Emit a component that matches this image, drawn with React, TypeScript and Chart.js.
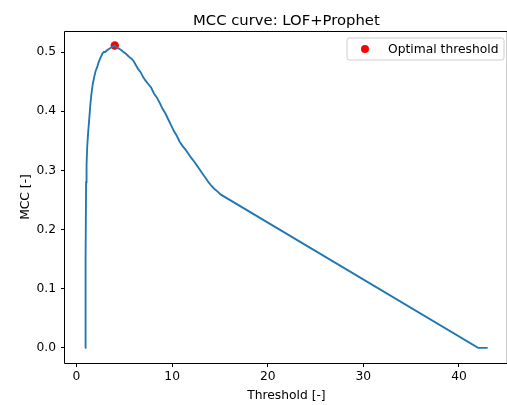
import React, { useEffect, useRef } from "react";
import { Chart, registerables } from "chart.js";

Chart.register(...registerables);

const thresholds = [
  0.9, 0.92, 0.95, 0.97, 1.0, 1.05, 1.12, 1.22, 1.32, 1.45, 1.55, 1.7, 1.85, 2.0, 2.15, 2.3, 2.5, 2.7, 2.85, 3.0,
  3.2, 3.45, 3.7, 3.9, 4.0, 4.15, 4.3, 4.5, 4.7, 4.9, 5.1, 5.3, 5.55, 5.8, 6.0, 6.2, 6.45, 6.7, 6.95, 7.2,
  7.5, 7.8, 8.1, 8.4, 8.7, 9.0, 9.3, 9.6, 9.9, 10.2, 10.5, 10.8, 11.1, 11.4, 11.7, 12.0, 12.3, 12.6, 12.9, 13.2,
  13.5, 13.8, 14.1, 14.4, 14.7, 15.1, 42.0, 43.0,
];
const mccValues = [
  0.0, 0.025, 0.028, 0.15, 0.28, 0.31, 0.34, 0.365, 0.385, 0.412, 0.428, 0.446, 0.458, 0.468, 0.474, 0.482, 0.49, 0.497, 0.5, 0.5,
  0.503, 0.506, 0.508, 0.51, 0.511, 0.508, 0.507, 0.505, 0.503, 0.5, 0.498, 0.495, 0.491, 0.488, 0.484, 0.478, 0.471, 0.466, 0.458, 0.452,
  0.446, 0.44, 0.43, 0.423, 0.414, 0.404, 0.396, 0.386, 0.376, 0.366, 0.358, 0.348, 0.341, 0.335, 0.328, 0.321, 0.315, 0.308, 0.301, 0.294,
  0.287, 0.28, 0.274, 0.269, 0.265, 0.259, 0.0, 0.0,
];
const optimalThreshold = [4.0];
const optimalMcc = [0.511];
const xTicks = [0, 10, 20, 30, 40];
const yTicks = [0, 0.1, 0.2, 0.3, 0.4, 0.5];

const titleText = "MCC curve: LOF+Prophet";
const xLabel = "Threshold [-]";
const yLabel = "MCC [-]";
const legendLabel = "Optimal threshold";

const FONT = "'DejaVu Sans', sans-serif";

const decor = {
  id: "decor",
  afterDraw(chart: any) {
    const { ctx, chartArea: a } = chart;
    ctx.save();
    // frame
    ctx.strokeStyle = "#000";
    ctx.lineWidth = 1;
    ctx.beginPath();
    ctx.rect(a.left - 0.5, a.top + 0.5, a.right - a.left, a.bottom - a.top);
    ctx.stroke();
    // title
    const cx = (a.left + a.right) / 2;
    ctx.fillStyle = "#000";
    ctx.textAlign = "center";
    ctx.textBaseline = "alphabetic";
    ctx.font = `14.8px ${FONT}`;
    ctx.fillText(titleText, cx, 25);
    // x label
    ctx.font = `12.3px ${FONT}`;
    ctx.fillText(xLabel, cx, 399);
    // y label
    ctx.save();
    ctx.translate(29, (a.top + a.bottom) / 2);
    ctx.rotate(-Math.PI / 2);
    ctx.fillText(yLabel, 0, 0);
    ctx.restore();
    // legend
    const lx = 347, ly = 38, lw = 157, lh = 22, r = 2.5;
    ctx.beginPath();
    ctx.moveTo(lx + r, ly);
    ctx.lineTo(lx + lw - r, ly);
    ctx.quadraticCurveTo(lx + lw, ly, lx + lw, ly + r);
    ctx.lineTo(lx + lw, ly + lh - r);
    ctx.quadraticCurveTo(lx + lw, ly + lh, lx + lw - r, ly + lh);
    ctx.lineTo(lx + r, ly + lh);
    ctx.quadraticCurveTo(lx, ly + lh, lx, ly + lh - r);
    ctx.lineTo(lx, ly + r);
    ctx.quadraticCurveTo(lx, ly, lx + r, ly);
    ctx.closePath();
    ctx.fillStyle = "rgba(255,255,255,0.8)";
    ctx.fill();
    ctx.strokeStyle = "#cccccc";
    ctx.lineWidth = 1;
    ctx.stroke();
    ctx.beginPath();
    ctx.arc(365, 49, 4, 0, Math.PI * 2);
    ctx.fillStyle = "#ff0000";
    ctx.fill();
    ctx.fillStyle = "#000";
    ctx.textAlign = "left";
    ctx.textBaseline = "middle";
    ctx.font = `12.3px ${FONT}`;
    ctx.fillText(legendLabel, 388, 49.5);
    ctx.restore();
  },
};

export default function App() {
  const ref = useRef<HTMLCanvasElement>(null);
  useEffect(() => {
    if (!ref.current) return;
    const lineData = thresholds.map((x, i) => ({ x, y: mccValues[i] }));
    const optData = optimalThreshold.map((x, i) => ({ x, y: optimalMcc[i] }));
    const chart = new Chart(ref.current, {
      type: "scatter",
      data: {
        datasets: [
          {
            type: "line",
            data: lineData,
            borderColor: "#1f77b4",
            borderWidth: 1.85,
            pointRadius: 0,
            fill: false,
            tension: 0,
            order: 1,
          } as any,
          {
            type: "scatter",
            data: optData,
            backgroundColor: "#ff0000",
            borderColor: "#ff0000",
            pointRadius: 4.2,
            pointBorderWidth: 0,
            order: 2,
          } as any,
        ],
      },
      options: {
        responsive: false,
        animation: false,
        devicePixelRatio: 1,
        layout: { padding: { top: 31, right: 0, left: 0, bottom: 0 } },
        plugins: { legend: { display: false }, tooltip: { enabled: false }, title: { display: false } },
        scales: {
          x: {
            type: "linear",
            min: -1.205,
            max: 45.105,
            afterBuildTicks: (s: any) => {
              s.ticks = xTicks.map((v) => ({ value: v }));
            },
            afterFit: (s: any) => {
              s.height = 42;
            },
            border: { display: false },
            grid: { display: true, drawOnChartArea: false, drawTicks: true, tickLength: 4, color: "#000", lineWidth: 1 },
            ticks: {
              font: { family: FONT, size: 12.3 },
              color: "#000",
              padding: 2,
              maxRotation: 0,
              callback: (v: any) => String(v),
            },
          },
          y: {
            type: "linear",
            min: -0.0255,
            max: 0.5355,
            afterBuildTicks: (s: any) => {
              s.ticks = yTicks.map((v) => ({ value: v }));
            },
            afterFit: (s: any) => {
              s.width = 65;
            },
            border: { display: false },
            grid: { display: true, drawOnChartArea: false, drawTicks: true, tickLength: 4, color: "#000", lineWidth: 1 },
            ticks: {
              font: { family: FONT, size: 12.3 },
              color: "#000",
              padding: 5,
              callback: (v: any) => Number(v).toFixed(1),
            },
          },
        },
      },
      plugins: [decor],
    });
    return () => chart.destroy();
  }, []);
  return (
    <div style={{ position: "fixed", left: 0, top: 0, width: 507, height: 405, overflow: "hidden", background: "#fff" }}>
      <canvas ref={ref} width={512} height={405} style={{ display: "block", width: 512, height: 405 }} />
    </div>
  );
}
